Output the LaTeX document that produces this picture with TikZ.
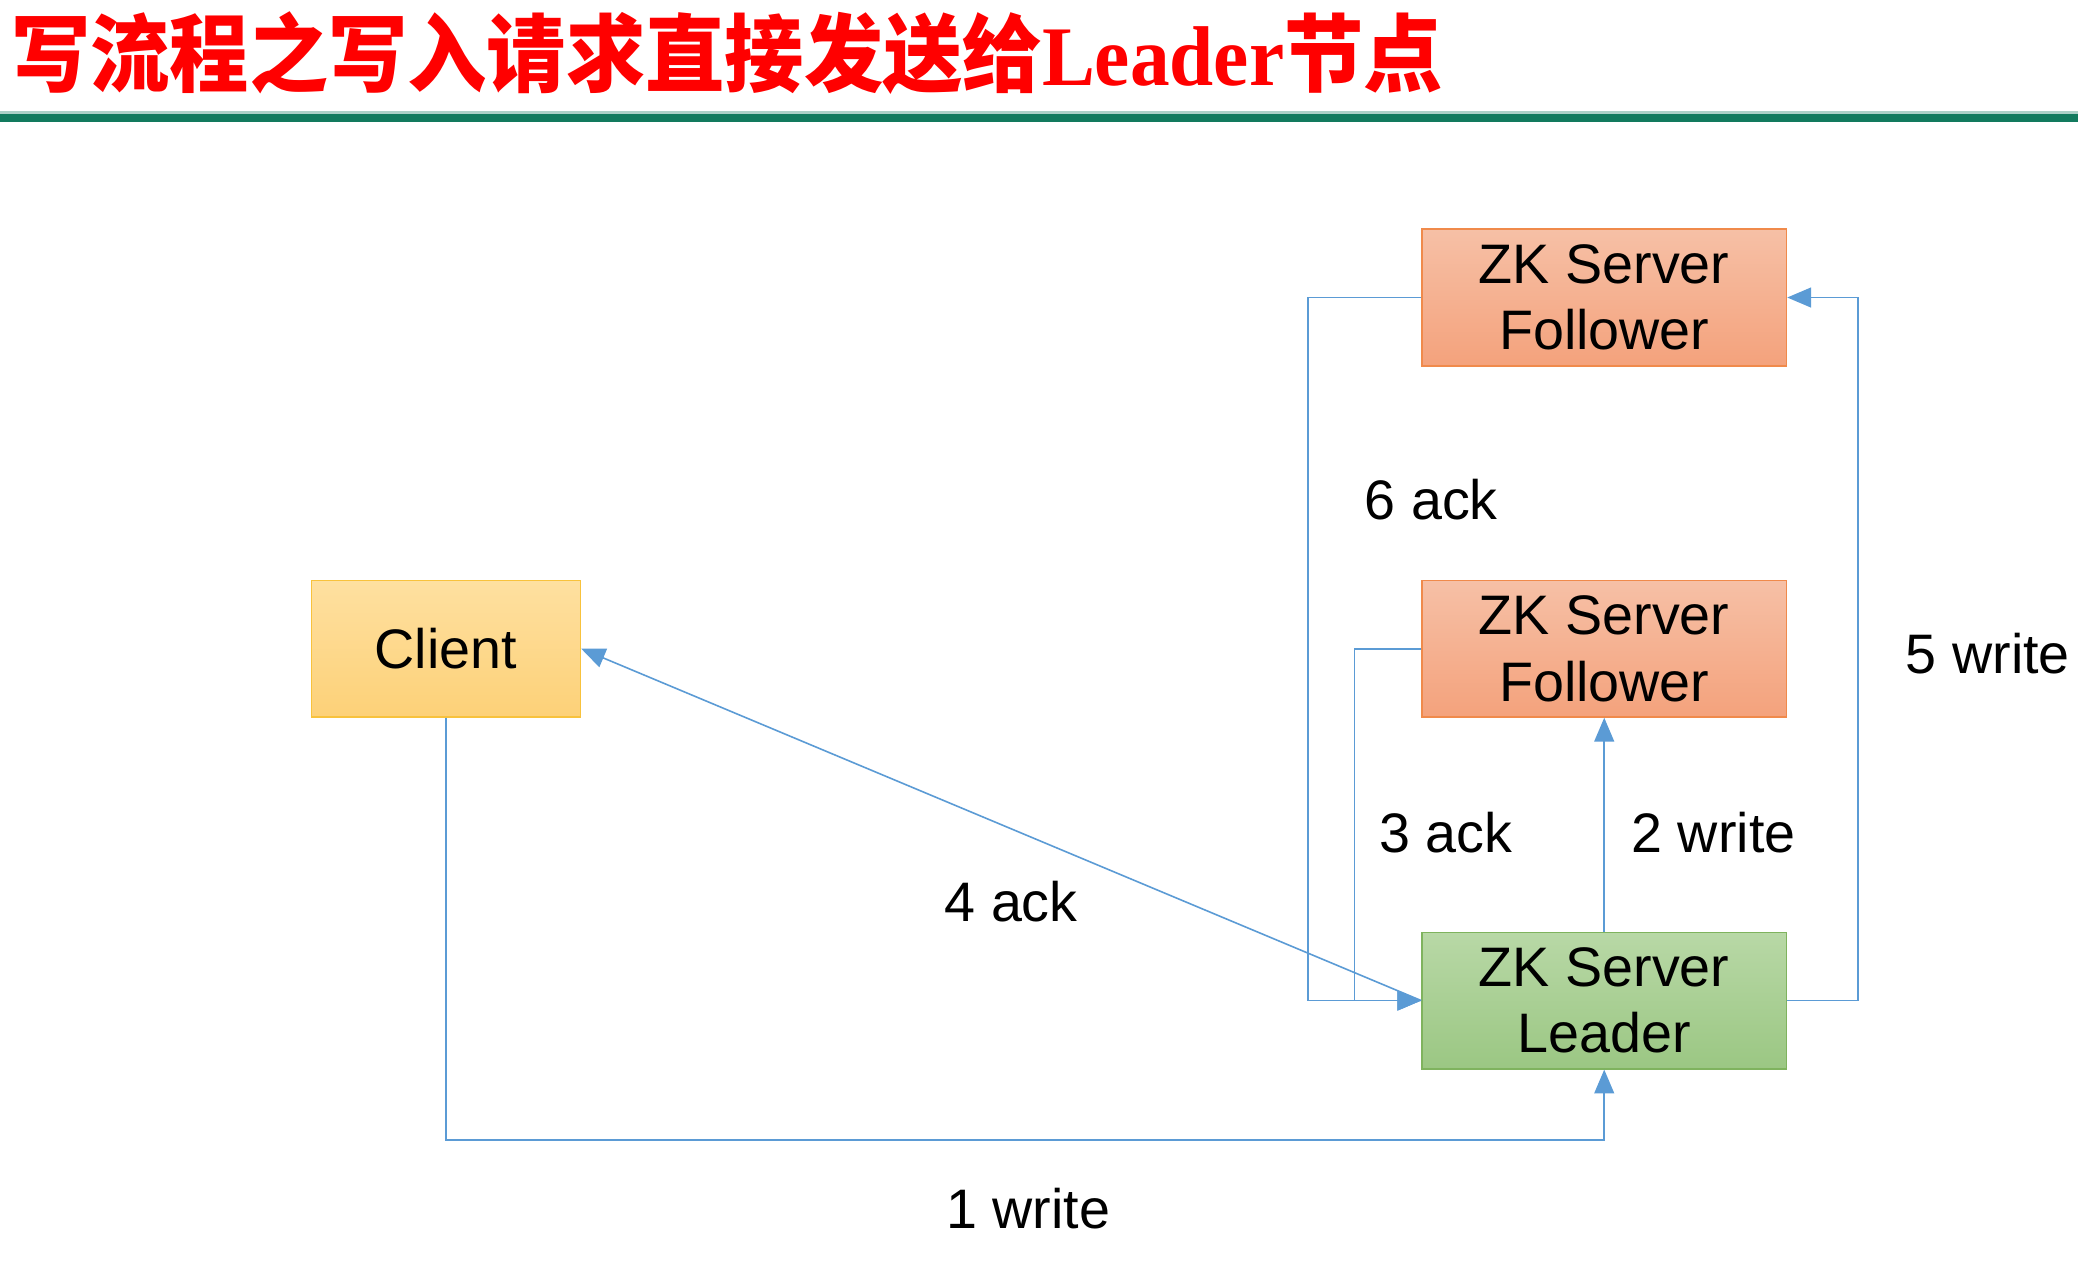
\documentclass[tikz,border=0pt]{standalone}
\usepackage{fontspec}
\usepackage{graphicx}
\setmainfont{Liberation Sans}
\newfontfamily\cjk{Noto Sans CJK SC}
\newfontfamily\serifL{Liberation Serif}
\usetikzlibrary{arrows.meta}
\definecolor{linkblue}{HTML}{5B9BD5}
\definecolor{rulegreen}{HTML}{127A5E}
\definecolor{fTop}{HTML}{F6C0A6}
\definecolor{fBot}{HTML}{F4A27C}
\definecolor{fBorder}{HTML}{F08A4B}
\definecolor{lTop}{HTML}{B8D8A6}
\definecolor{lBot}{HTML}{9BC783}
\definecolor{lBorder}{HTML}{7FB35E}
\definecolor{cTop}{HTML}{FEE0A0}
\definecolor{cBot}{HTML}{FDD178}
\definecolor{cBorder}{HTML}{F8C23C}
\tikzset{
  boxbase/.style={draw, line width=0.6pt, inner sep=0pt, minimum width=137.5pt, minimum height=51.5pt,
    align=center, font=\fontsize{21}{25}\selectfont},
  follower/.style={boxbase, draw=fBorder, top color=fTop, bottom color=fBot},
  leader/.style={boxbase, draw=lBorder, top color=lTop, bottom color=lBot},
  clientbox/.style={boxbase, draw=cBorder, top color=cTop, bottom color=cBot, minimum width=101.5pt},
  conn/.style={draw=linkblue, line width=0.6pt},
  arr/.style={conn, -{Triangle[length=9pt,width=7.5pt]}, line join=miter},
  lbl/.style={font=\fontsize{21}{25}\selectfont, inner sep=0pt}
}
\begin{document}
\begin{tikzpicture}[x=0.5pt,y=-0.5pt]
\useasboundingbox (0,0) rectangle (1568,952);
\fill[white] (0,0) rectangle (1568,952);
% title
\node[anchor=west, inner sep=0pt, text=red] (title) at (8,40)
  {\scalebox{0.935}[1]{\fontsize{32}{36}\selectfont\cjk\bfseries 写流程之写入请求直接发送给{\serifL\bfseries Leader}节点}};
\fill[rulegreen!35] (0,84) rectangle (1568,86);
\fill[rulegreen] (0,86) rectangle (1568,92);
% nodes
\node[follower] (F1) at (1210.5,224.5) {ZK Server\\Follower};
\node[follower] (F2) at (1210.5,489.5) {ZK Server\\Follower};
\node[leader] (L) at (1210.5,755) {ZK Server\\Leader};
\node[clientbox] (C) at (336.5,489.5) {Client};
% helper coordinates
\coordinate (x6) at (987,755);
\coordinate (x3) at (1022,755);
\coordinate (x5) at (1402,755);
\coordinate (b1) at (336.5,860);
\coordinate (b2) at (1210.5,860);
% connectors
\draw[arr] (F1.west) -| (x6) -- (L.west);
\draw[arr] (F2.west) -| (x3) -- (L.west);
\draw[arr] (L.east) -- (x5) |- (F1.east);
\draw[arr] (L.north) -- (F2.south);
\draw[arr] (C.south) -- (b1) -- (b2) -- (L.south);
\draw[arr] (L.west) -- (C.east);
% labels
\node[lbl] (t6) at (1080,377) {6 ack};
\node[lbl] (t5) at (1500,493) {5 write};
\node[lbl] (t3) at (1091,628) {3 ack};
\node[lbl] (t2) at (1293,628) {2 write};
\node[lbl] (t4) at (763,680) {4 ack};
\node[lbl] (t1) at (776,912) {1 write};
\end{tikzpicture}
\end{document}
